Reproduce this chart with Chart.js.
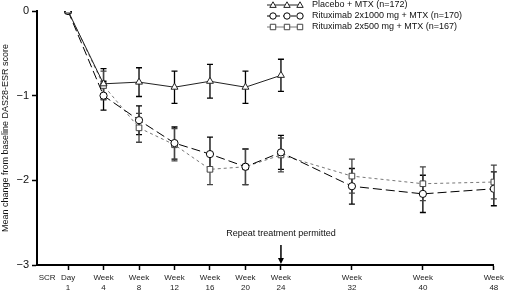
<!DOCTYPE html>
<html>
<head>
<meta charset="utf-8">
<script src="https://cdn.jsdelivr.net/npm/chart.js@4.4.1/dist/chart.umd.min.js"></script>
<style>
  html, body { margin: 0; padding: 0; background: #fff; }
  #wrap { width: 507px; height: 293px; position: relative; }
</style>
</head>
<body>
<div id="wrap"><canvas id="dasChart"></canvas></div>
<script>
// weeks (Day 1 = week 0)
const weeks = [0, 4, 8, 12, 16, 20, 24, 32, 40, 48];
const tickVals = [-2.35, 0, 4, 8, 12, 16, 20, 24, 32, 40, 48];
const tickLabels = ['SCR', ['Day', '1'], ['Week', '4'], ['Week', '8'], ['Week', '12'], ['Week', '16'],
  ['Week', '20'], ['Week', '24'], ['Week', '32'], ['Week', '40'], ['Week', '48']];

const placeboMean = [0, -0.86, -0.84, -0.90, -0.83, -0.90, -0.76];
const placeboErr  = [0, 0.18, 0.17, 0.19, 0.20, 0.19, 0.19];
const ritux1000Mean = [0, -1.00, -1.29, -1.56, -1.69, -1.84, -1.67, -2.07, -2.16, -2.10];
const ritux1000Err  = [0, 0.17, 0.17, 0.19, 0.20, 0.21, 0.20, 0.21, 0.22, 0.20];
const ritux500Mean = [0, -0.88, -1.38, -1.58, -1.87, -1.84, -1.70, -1.95, -2.04, -2.02];
const ritux500Err  = [0, 0.17, 0.17, 0.19, 0.18, 0.21, 0.20, 0.20, 0.20, 0.20];

const legendNames = ['Placebo + MTX (n=172)', 'Rituximab 2x1000 mg + MTX (n=170)', 'Rituximab 2x500 mg + MTX (n=167)'];

const FONT = '"Liberation Sans", Arial, sans-serif';

function pts(means) {
  return means.map((v, i) => ({ x: weeks[i], y: v }));
}

const errs = [placeboErr, ritux1000Err, ritux500Err];

// error bars with caps, drawn under markers
const errorBars = {
  id: 'errorBars',
  beforeDatasetsDraw(chart) {
    const ctx = chart.ctx;
    const xs = chart.scales.x, ys = chart.scales.y;
    ctx.save();
    chart.data.datasets.forEach((ds, d) => {
      ctx.strokeStyle = d == 2 ? '#444' : '#000';
      ctx.lineWidth = 1.3;
      ds.data.forEach((p, i) => {
        const e = errs[d][i];
        if (!e) return;
        const px = xs.getPixelForValue(p.x);
        const top = ys.getPixelForValue(p.y + e);
        const bot = ys.getPixelForValue(p.y - e);
        ctx.beginPath();
        ctx.moveTo(px, top); ctx.lineTo(px, bot);
        ctx.moveTo(px - 3, top); ctx.lineTo(px + 3, top);
        ctx.moveTo(px - 3, bot); ctx.lineTo(px + 3, bot);
        ctx.stroke();
      });
    });
    ctx.restore();
  }
};

function drawMarker(ctx, style, x, y, r) {
  ctx.beginPath();
  if (style == 'triangle') {
    ctx.moveTo(x, y - r);
    ctx.lineTo(x + r, y + r * 0.75);
    ctx.lineTo(x - r, y + r * 0.75);
    ctx.closePath();
  } else if (style == 'circle') {
    ctx.arc(x, y, r, 0, Math.PI * 2);
  } else {
    ctx.rect(x - r * 0.85, y - r * 0.85, r * 1.7, r * 1.7);
  }
  ctx.fill();
  ctx.stroke();
}

// legend + annotation
const extras = {
  id: 'extras',
  afterDraw(chart) {
    const ctx = chart.ctx;
    ctx.save();
    const rows = [5, 16, 27];
    chart.data.datasets.forEach((ds, d) => {
      const y = rows[d];
      ctx.strokeStyle = ds.borderColor;
      ctx.lineWidth = 1;
      ctx.setLineDash(d == 1 ? [5, 3] : []);
      ctx.beginPath(); ctx.moveTo(267, y); ctx.lineTo(302, y); ctx.stroke();
      ctx.setLineDash([]);
      ctx.fillStyle = '#fff';
      ctx.strokeStyle = ds.pointBorderColor;
      [273, 287, 300].forEach(mx => drawMarker(ctx, ds.pointStyle, mx, y, 3.2));
      ctx.fillStyle = '#111';
      ctx.font = '9px ' + FONT;
      ctx.textBaseline = 'middle';
      ctx.textAlign = 'left';
      ctx.fillText(legendNames[d], 312, y);
    });
    // repeat treatment arrow
    const xs = chart.scales.x, ys = chart.scales.y;
    const ax = xs.getPixelForValue(24);
    const ab = ys.getPixelForValue(-3);
    ctx.fillStyle = '#111';
    ctx.font = '9px ' + FONT;
    ctx.textAlign = 'center';
    ctx.textBaseline = 'middle';
    ctx.fillText('Repeat treatment permitted', ax, 234);
    ctx.strokeStyle = '#000';
    ctx.lineWidth = 1.5;
    ctx.beginPath(); ctx.moveTo(ax, 245); ctx.lineTo(ax, ab - 4); ctx.stroke();
    ctx.fillStyle = '#000';
    ctx.beginPath();
    ctx.moveTo(ax, ab - 1); ctx.lineTo(ax - 3, ab - 7); ctx.lineTo(ax + 3, ab - 7); ctx.closePath();
    ctx.fill();
    ctx.restore();
  }
};

new Chart(document.getElementById('dasChart'), {
  type: 'line',
  data: {
    datasets: [{
      label: legendNames[0],
      data: pts(placeboMean),
      borderColor: '#222',
      borderWidth: 1,
      pointStyle: 'triangle',
      pointRadius: 4,
      pointBorderColor: '#222',
      pointBackgroundColor: '#fff',
      pointBorderWidth: 1
    }, {
      label: legendNames[1],
      data: pts(ritux1000Mean),
      borderColor: '#000',
      borderWidth: 1,
      borderDash: [9, 4],
      pointStyle: 'circle',
      pointRadius: 3.6,
      pointBorderColor: '#000',
      pointBackgroundColor: '#fff',
      pointBorderWidth: 1
    }, {
      label: legendNames[2],
      data: pts(ritux500Mean),
      borderColor: '#777',
      borderWidth: 1,
      borderDash: [3, 3],
      pointStyle: 'rect',
      pointRadius: 4,
      pointBorderColor: '#444',
      pointBackgroundColor: '#fff',
      pointBorderWidth: 1
    }]
  },
  options: {
    responsive: true,
    maintainAspectRatio: false,
    animation: false,
    layout: { padding: { top: 11, right: 10, left: 0, bottom: 0 } },
    plugins: { legend: { display: false }, tooltip: { enabled: false } },
    scales: {
      x: {
        type: 'linear',
        min: -3.5,
        max: 48,
        afterBuildTicks: (s) => { s.ticks = tickVals.map(v => ({ value: v })); },
        afterFit: (s) => { s.height = 28; },
        ticks: {
          autoSkip: false,
          maxRotation: 0,
          padding: 3,
          color: '#222',
          font: { family: FONT, size: 8, lineHeight: 1.25 },
          callback: (v, i) => tickLabels[i]
        },
        grid: {
          drawOnChartArea: false,
          drawTicks: true,
          tickLength: 5,
          tickWidth: 1.5,
          tickColor: (c) => (c.index === 0 ? 'rgba(0,0,0,0)' : '#000')
        },
        border: { display: true, color: '#000', width: 2 }
      },
      y: {
        min: -3,
        max: 0,
        afterFit: (s) => { s.width = 37; },
        ticks: {
          stepSize: 1,
          padding: 3,
          color: '#111',
          font: { family: FONT, size: 11 },
          callback: (v) => (v === 0 ? '0' : '\u2212' + Math.abs(v))
        },
        title: {
          display: true,
          text: 'Mean change from baseline DAS28-ESR score',
          color: '#111',
          padding: { top: 0, bottom: 2 },
          font: { family: FONT, size: 9 }
        },
        grid: {
          drawOnChartArea: false,
          drawTicks: true,
          tickLength: 5,
          tickWidth: 1.5,
          tickColor: '#000'
        },
        border: { display: true, color: '#000', width: 2 }
      }
    }
  },
  plugins: [errorBars, extras]
});
</script>
</body>
</html>
